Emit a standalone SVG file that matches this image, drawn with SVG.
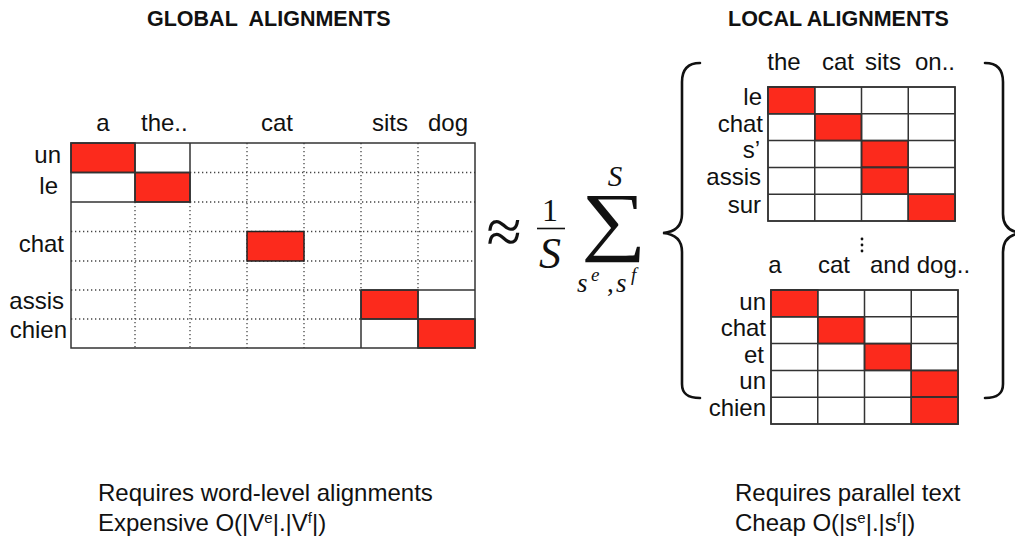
<svg xmlns="http://www.w3.org/2000/svg" width="1015" height="538" viewBox="0 0 1015 538">
<style>
.t{font-family:"Liberation Sans",Arial,sans-serif;font-size:24px;fill:#111}
.r{text-anchor:end}
.m{text-anchor:middle}
.h{font-family:"Liberation Sans",Arial,sans-serif;font-size:21.5px;font-weight:bold;fill:#111;white-space:pre}
.red{fill:#fc2a1c;stroke:#222;stroke-width:1.5}
.sol{stroke:#333;stroke-width:1.5;fill:none}
.dot{stroke:#444;stroke-width:1.3;stroke-dasharray:1.3 2.7;fill:none}
.cell{fill:#fff;stroke:#333;stroke-width:1.5}
.mf{font-family:"Liberation Serif","Times New Roman",serif;fill:#111}
.brace{fill:none;stroke:#111;stroke-width:2.6;stroke-linecap:round}
</style>
<rect width="1015" height="538" fill="#fff"/>

<g id="titles">
<text class="h" x="147" y="26">GLOBAL  ALIGNMENTS</text>
<text class="h" x="728" y="26">LOCAL ALIGNMENTS</text>
</g>

<g id="global-matrix">
<rect x="71" y="143" width="404" height="205" fill="#fff"/>
<path class="dot" d="M135 202V348M190 202V348M247 143V348M304 143V348M361 143V290M418 143V290M190 172.5H475M190 202H475M71 231.5H475M71 261H475M71 290H361M71 319H361"/>
<rect class="red" x="71" y="143" width="64" height="29.5"/>
<rect class="red" x="135" y="172.5" width="55" height="29.5"/>
<rect class="red" x="247" y="231.5" width="57" height="29.5"/>
<rect class="red" x="361" y="290" width="57" height="29"/>
<rect class="red" x="418" y="319" width="57" height="29"/>
<path class="sol" d="M135 143V202M190 143V202M71 172.5H190M71 202H190M361 290V348M418 290V348M361 290H475M361 319H475"/>
<rect class="sol" x="71" y="143" width="404" height="205"/>
<text class="t m" x="103" y="131">a</text>
<text class="t" x="141" y="131">the..</text>
<text class="t m" x="277" y="131">cat</text>
<text class="t m" x="390" y="131">sits</text>
<text class="t m" x="448" y="131">dog</text>
<text class="t r" x="61" y="163">un</text>
<text class="t r" x="58" y="194">le</text>
<text class="t r" x="64" y="252">chat</text>
<text class="t r" x="64" y="309">assis</text>
<text class="t r" x="67" y="338">chien</text>
</g>

<g id="formula">
<text class="mf" x="504" y="253" text-anchor="middle" font-size="64">≈</text>
<text class="mf" x="550" y="221" text-anchor="middle" font-size="32">1</text>
<line x1="537" y1="228.5" x2="565" y2="228.5" stroke="#111" stroke-width="1.6"/>
<text class="mf" x="550" y="268" text-anchor="middle" font-size="44" font-style="italic">S</text>
<text class="mf" x="615" y="186" text-anchor="middle" font-size="29" font-style="italic">S</text>
<text class="mf" transform="translate(614,246) scale(1.2,1)" text-anchor="middle" font-size="76">∑</text>
<text class="mf" x="577" y="292" font-size="27" font-style="italic">s</text>
<text class="mf" x="591" y="281" font-size="19" font-style="italic">e</text>
<text class="mf" x="607" y="292" font-size="27">,</text>
<text class="mf" x="616" y="292" font-size="27" font-style="italic">s</text>
<text class="mf" x="631" y="281" font-size="19" font-style="italic">f</text>
</g>

<g id="braces">
<path class="brace" d="M700 63C688 63 682 69 682 82L682 214C682 226 675 232 663 233C675 234 682 240 682 252L682 384C682 394 688 398 700 398"/>
<path class="brace" d="M985 63C997 63 1003 69 1003 82L1003 214C1003 226 1010 232 1022 233C1010 234 1003 240 1003 252L1003 384C1003 394 997 398 985 398"/>
</g>

<g id="local-matrix-1">
<rect class="cell" x="768" y="87" width="187" height="134"/>
<rect class="red" x="768" y="87" width="46.75" height="26.8"/>
<rect class="red" x="814.75" y="113.8" width="46.75" height="26.8"/>
<rect class="red" x="861.5" y="140.6" width="46.75" height="26.8"/>
<rect class="red" x="861.5" y="167.4" width="46.75" height="26.8"/>
<rect class="red" x="908.25" y="194.2" width="46.75" height="26.8"/>
<path class="sol" d="M814.75 87V221M861.5 87V221M908.25 87V221M768 113.8H955M768 140.6H955M768 167.4H955M768 194.2H955"/>
<rect class="sol" x="768" y="87" width="187" height="134"/>
<text class="t m" x="784" y="70">the</text>
<text class="t m" x="838" y="70">cat</text>
<text class="t m" x="883" y="70">sits</text>
<text class="t m" x="935" y="70">on..</text>
<text class="t r" x="762" y="105">le</text>
<text class="t r" x="763" y="132">chat</text>
<text class="t r" x="760" y="158">s’</text>
<text class="t r" x="761" y="185">assis</text>
<text class="t r" x="761" y="213">sur</text>
</g>

<g id="ellipsis">
<circle cx="862" cy="239" r="1.4" fill="#111"/>
<circle cx="862" cy="245" r="1.4" fill="#111"/>
<circle cx="862" cy="251" r="1.4" fill="#111"/>
</g>

<g id="local-matrix-2">
<rect class="cell" x="771" y="290" width="187" height="134"/>
<rect class="red" x="771" y="290" width="46.75" height="26.8"/>
<rect class="red" x="817.75" y="316.8" width="46.75" height="26.8"/>
<rect class="red" x="864.5" y="343.6" width="46.75" height="26.8"/>
<rect class="red" x="911.25" y="370.4" width="46.75" height="26.8"/>
<rect class="red" x="911.25" y="397.2" width="46.75" height="26.8"/>
<path class="sol" d="M817.75 290V424M864.5 290V424M911.25 290V424M771 316.8H958M771 343.6H958M771 370.4H958M771 397.2H958"/>
<rect class="sol" x="771" y="290" width="187" height="134"/>
<text class="t m" x="775" y="273">a</text>
<text class="t m" x="834" y="273">cat</text>
<text class="t" x="870" y="273">and dog..</text>
<text class="t r" x="766" y="310">un</text>
<text class="t r" x="766" y="336">chat</text>
<text class="t r" x="764" y="363">et</text>
<text class="t r" x="766" y="389">un</text>
<text class="t r" x="766" y="416">chien</text>
</g>

<g id="captions">
<text class="t" x="98" y="501">Requires word-level alignments</text>
<text class="t" x="98" y="531">Expensive O(|V<tspan font-size="15" dy="-8">e</tspan><tspan dy="8">|.|V</tspan><tspan font-size="15" dy="-8">f</tspan><tspan dy="8">|)</tspan></text>
<text class="t" x="735" y="501">Requires parallel text</text>
<text class="t" x="735" y="531">Cheap O(|s<tspan font-size="15" dy="-8">e</tspan><tspan dy="8">|.|s</tspan><tspan font-size="15" dy="-8">f</tspan><tspan dy="8">|)</tspan></text>
</g>
</svg>
